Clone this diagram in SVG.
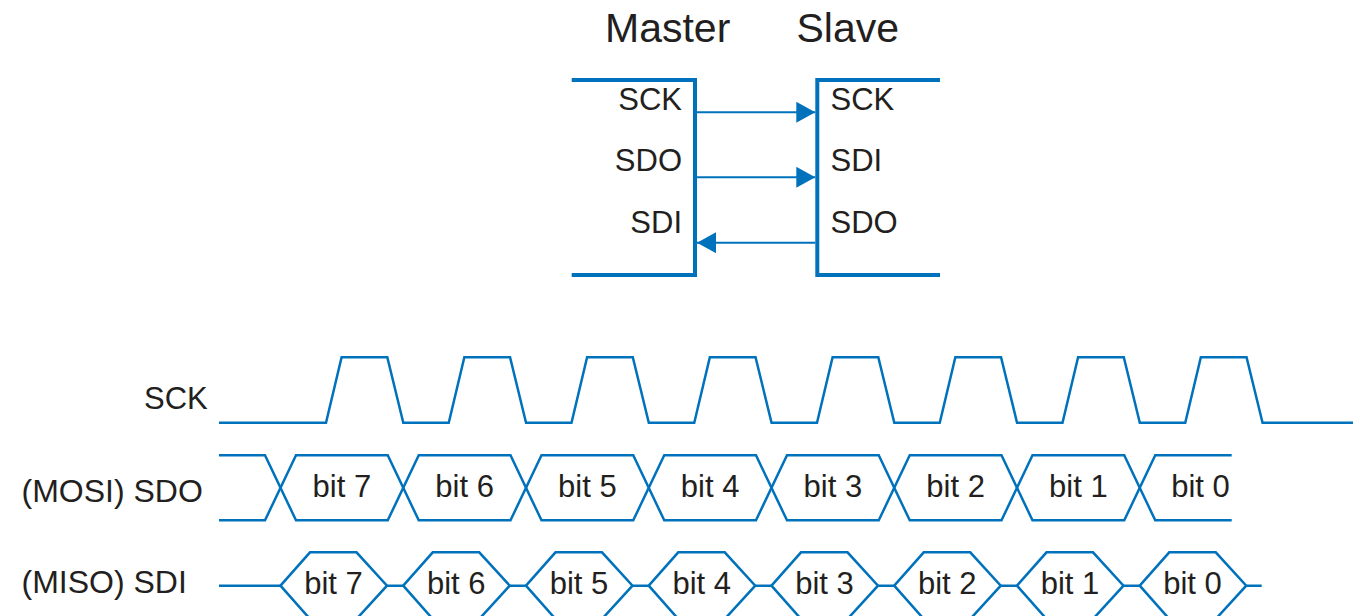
<svg xmlns="http://www.w3.org/2000/svg" width="1353" height="616" viewBox="0 0 1353 616">
  <style>
    .t { font-family: "Liberation Sans", Arial, sans-serif; fill: #231F20; }
    .title { font-size: 41px; }
    .lbl { font-size: 31px; }
    .sig { font-size: 32px; }
    .blk { fill: none; stroke: #0072BC; stroke-width: 4; stroke-linejoin: miter; }
    .wave { fill: none; stroke: #0072BC; stroke-width: 2.5; stroke-linejoin: miter; }
    .conn { fill: none; stroke: #0072BC; stroke-width: 2; }
  </style>
  <defs>
    <marker id="arrow" markerUnits="userSpaceOnUse" markerWidth="20" markerHeight="21" refX="19" refY="10.5" orient="auto">
      <path d="M0,0 L19,10.5 L0,21 z" fill="#0072BC"/>
    </marker>
  </defs>
  <rect width="1353" height="616" fill="#ffffff"/>

  <g id="master">
    <text class="t title" x="605" y="42">Master</text>
    <path class="blk" d="M571.7,80 H695 V275 H571.7"/>
    <text class="t lbl" x="682" y="109.5" text-anchor="end">SCK</text>
    <text class="t lbl" x="682" y="171" text-anchor="end">SDO</text>
    <text class="t lbl" x="682" y="233" text-anchor="end">SDI</text>
  </g>

  <g id="slave">
    <text class="t title" x="796.5" y="42">Slave</text>
    <path class="blk" d="M940,80 H817.3 V275 H940"/>
    <text class="t lbl" x="830.5" y="109.5">SCK</text>
    <text class="t lbl" x="830.5" y="171">SDI</text>
    <text class="t lbl" x="830.5" y="233">SDO</text>
  </g>

  <g id="connectors">
    <line class="conn" x1="697" y1="112.3" x2="815.3" y2="112.3" marker-end="url(#arrow)"/>
    <line class="conn" x1="697" y1="177.3" x2="815.3" y2="177.3" marker-end="url(#arrow)"/>
    <line class="conn" x1="815.3" y1="242.7" x2="697" y2="242.7" marker-end="url(#arrow)"/>
  </g>

  <g id="sck-signal">
    <text class="t lbl" x="144" y="409">SCK</text>
    <path class="wave" d="M219,422.7 H326 L341.6,357.3 H387.3 L403.3,422.7 H448.75 L464.35,357.3 H510.05 L526.05,422.7 H571.5 L587.1,357.3 H632.8 L648.8,422.7 H694.25 L709.85,357.3 H755.55 L771.55,422.7 H817 L832.6,357.3 H878.3 L894.3,422.7 H939.75 L955.35,357.3 H1001.05 L1017.05,422.7 H1062.5 L1078.1,357.3 H1123.8 L1139.8,422.7 H1185.25 L1200.85,357.3 H1246.55 L1262.55,422.7 H1353"/>
  </g>

  <g id="mosi-signal">
    <text class="t sig" x="21.5" y="502.3">(MOSI) SDO</text>
    <path class="wave" d="M219,455.3 H265 L296,520.3 H387.75 L418.75,455.3 H510.5 L541.5,520.3 H633.25 L664.25,455.3 H756 L787,520.3 H878.75 L909.75,455.3 H1001.5 L1032.5,520.3 H1124.25 L1155.25,455.3 H1231.7"/>
    <path class="wave" d="M219,520.3 H265 L296,455.3 H387.75 L418.75,520.3 H510.5 L541.5,455.3 H633.25 L664.25,520.3 H756 L787,455.3 H878.75 L909.75,520.3 H1001.5 L1032.5,455.3 H1124.25 L1155.25,520.3 H1231.7"/>
    <g class="t lbl" text-anchor="middle">
      <text x="341.9" y="497">bit 7</text>
      <text x="464.6" y="497">bit 6</text>
      <text x="587.4" y="497">bit 5</text>
      <text x="710.1" y="497">bit 4</text>
      <text x="832.9" y="497">bit 3</text>
      <text x="955.6" y="497">bit 2</text>
      <text x="1078.4" y="497">bit 1</text>
      <text x="1200.5" y="497">bit 0</text>
    </g>
  </g>

  <g id="miso-signal">
    <text class="t sig" x="21.5" y="593">(MISO) SDI</text>
    <path class="wave" d="M219,585.7 H280.5 M387,585.7 H403.25 M509.75,585.7 H526 M632.5,585.7 H648.75 M755.25,585.7 H771.5 M878,585.7 H894.25 M1000.75,585.7 H1017 M1123.5,585.7 H1139.75 M1246.25,585.7 H1261.7"/>
    <polygon class="wave" points="280.5,585.7 310,552.3 356.5,552.3 387,585.7 356.5,619 310,619"/>
    <polygon class="wave" points="403.25,585.7 432.75,552.3 479.25,552.3 509.75,585.7 479.25,619 432.75,619"/>
    <polygon class="wave" points="526,585.7 555.5,552.3 602,552.3 632.5,585.7 602,619 555.5,619"/>
    <polygon class="wave" points="648.75,585.7 678.25,552.3 724.75,552.3 755.25,585.7 724.75,619 678.25,619"/>
    <polygon class="wave" points="771.5,585.7 801,552.3 847.5,552.3 878,585.7 847.5,619 801,619"/>
    <polygon class="wave" points="894.25,585.7 923.75,552.3 970.25,552.3 1000.75,585.7 970.25,619 923.75,619"/>
    <polygon class="wave" points="1017,585.7 1046.5,552.3 1093,552.3 1123.5,585.7 1093,619 1046.5,619"/>
    <polygon class="wave" points="1139.75,585.7 1169.25,552.3 1215.75,552.3 1246.25,585.7 1215.75,619 1169.25,619"/>
    <g class="t lbl" text-anchor="middle">
      <text x="333.5" y="593.5">bit 7</text>
      <text x="456.3" y="593.5">bit 6</text>
      <text x="579" y="593.5">bit 5</text>
      <text x="701.8" y="593.5">bit 4</text>
      <text x="824.5" y="593.5">bit 3</text>
      <text x="947.3" y="593.5">bit 2</text>
      <text x="1070" y="593.5">bit 1</text>
      <text x="1192.5" y="593.5">bit 0</text>
    </g>
  </g>
</svg>
